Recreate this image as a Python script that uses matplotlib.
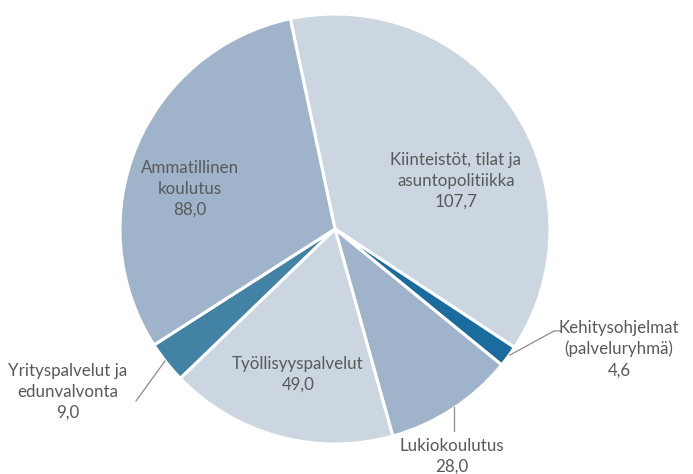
import numpy as np
from matplotlib import pyplot as plt

# slices, clockwise from the top
labels = ["Kiinteistöt, tilat ja\nasuntopolitiikka", "Kehitysohjelmat\n(palveluryhmä)",
          "Lukiokoulutus", "Työllisyyspalvelut", "Yrityspalvelut ja\nedunvalvonta",
          "Ammatillinen\nkoulutus"]
values = [107.7, 4.6, 28.0, 49.0, 9.0, 88.0]
value_text = ["107,7", "4,6", "28,0", "49,0", "9,0", "88,0"]

colors = ["#cbd6e1", "#1a6c9e", "#9fb4ca", "#cbd6e1", "#4282a5", "#9fb4ca"]

W, H = 693, 474
cx, cy, R = 335, H - 229, 215

# label centres in pixel coords (y from top)
label_pos = [(456, 181), (619, 349), (452, 456), (298, 374), (68, 392), (190, 189)]
# leader lines for outside labels, pixel coords
leaders = {1: [(510, 355), (554, 331), (561, 331)],
           2: [(454, 407), (454, 431)],
           4: [(165, 361), (136, 401)]}

fig = plt.figure(figsize=(W / 100, H / 100), dpi=100)
ax = fig.add_axes([0, 0, 1, 1])
ax.pie(values, colors=colors, startangle=102, counterclock=False,
       radius=R, center=(cx, cy),
       wedgeprops=dict(edgecolor="white", linewidth=2.2))
ax.set_xlim(0, W)
ax.set_ylim(0, H)
ax.axis("off")

for i, (lab, val) in enumerate(zip(labels, value_text)):
    x, y = label_pos[i]
    ax.text(x, H - y, lab + "\n" + val, ha="center", va="center",
            fontsize=12.2, family="Lato", color="#595959", linespacing=1.38)

for i, pts in leaders.items():
    xs = [p[0] for p in pts]
    ys = [H - p[1] for p in pts]
    ax.plot(xs, ys, color="#8c8c8c", lw=0.9)

plt.savefig("out.png", dpi=100)
